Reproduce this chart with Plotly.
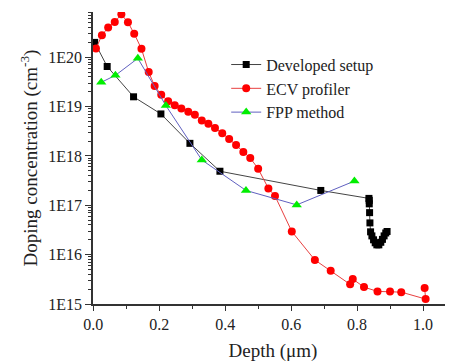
import plotly.graph_objects as go

# Developed setup
dev_x = [0.004, 0.042, 0.122, 0.205, 0.293, 0.384, 0.690, 0.836, 0.837, 0.837, 0.838, 0.839,
         0.841, 0.845, 0.850, 0.855, 0.860, 0.866, 0.872, 0.877, 0.882, 0.887, 0.891]
dev_y = [2.0e20, 6.5e19, 1.58e19, 7.1e18, 1.8e18, 4.9e17, 2.0e17, 1.38e17, 1.26e17, 1.07e17,
         7.1e16, 4.4e16, 2.9e16, 2.4e16, 2.0e16, 1.74e16, 1.58e16, 1.58e16, 1.78e16, 2.04e16,
         2.4e16, 2.75e16, 2.95e16]

# ECV profiler
ecv_x = [0.008, 0.026, 0.045, 0.065, 0.085, 0.105, 0.124, 0.146, 0.168, 0.186, 0.206, 0.227,
         0.247, 0.267, 0.288, 0.308, 0.329, 0.349, 0.369, 0.391, 0.412, 0.433, 0.455, 0.476,
         0.500, 0.531, 0.551, 0.602, 0.672, 0.720, 0.779, 0.787, 0.821, 0.862, 0.900, 0.934,
         1.008, 1.005]
ecv_y = [1.5e20, 2.8e20, 4.0e20, 5.2e20, 7.4e20, 5.1e20, 3.0e20, 1.48e20, 5.0e19, 2.6e19,
         1.74e19, 1.29e19, 1.07e19, 9.1e18, 7.9e18, 6.8e18, 5.2e18, 4.5e18, 3.7e18, 2.9e18,
         2.2e18, 1.66e18, 1.2e18, 9.1e17, 5.5e17, 2.2e17, 1.55e17, 2.95e16, 7.8e15, 4.7e15,
         2.5e15, 3.2e15, 2.2e15, 1.8e15, 1.8e15, 1.74e15, 1.26e15, 2.1e15]

# FPP method
fpp_x = [0.024, 0.067, 0.135, 0.220, 0.329, 0.463, 0.617, 0.792]
fpp_y = [3.1e19, 4.3e19, 9.5e19, 1.05e19, 8.3e17, 2.0e17, 1.02e17, 3.1e17]

y_tickvals = [1e15, 1e16, 1e17, 1e18, 1e19, 1e20]
y_ticktext = ["1E15", "1E16", "1E17", "1E18", "1E19", "1E20"]
x_tickvals = [0.0, 0.2, 0.4, 0.6, 0.8, 1.0]
x_ticktext = ["0.0", "0.2", "0.4", "0.6", "0.8", "1.0"]

FONT = "Liberation Serif"

fig = go.Figure()
fig.add_trace(go.Scatter(x=dev_x, y=dev_y, mode="lines+markers", name="Developed setup",
                         line=dict(color="#444444", width=1),
                         marker=dict(symbol="square", size=7, color="#000000")))
fig.add_trace(go.Scatter(x=ecv_x, y=ecv_y, mode="lines+markers", name="ECV profiler",
                         line=dict(color="#e84040", width=1),
                         marker=dict(symbol="circle", size=8, color="#ff0000")))
fig.add_trace(go.Scatter(x=fpp_x, y=fpp_y, mode="lines+markers", name="FPP method",
                         line=dict(color="#6060c0", width=1),
                         marker=dict(symbol="triangle-up", size=9, color="#00ee00")))

minor_y = [float(m) * 10.0 ** k for k in range(15, 21) for m in range(2, 10)
           if float(m) * 10.0 ** k < 8.3e20]

fig.update_layout(
    width=445, height=355,
    margin=dict(l=85, r=0, t=4, b=59, autoexpand=False),
    paper_bgcolor="white", plot_bgcolor="white",
    font=dict(family=FONT, size=16, color="#222222"),
    showlegend=True,
    legend=dict(x=0.37, y=0.878, xanchor="left", yanchor="top",
                bgcolor="rgba(0,0,0,0)", font=dict(family=FONT, size=16, color="#222222"),
                tracegroupgap=0),
    xaxis=dict(range=[-0.001, 1.091], tickmode="array", tickvals=x_tickvals,
               ticktext=x_ticktext, ticks="outside", ticklen=5, tickwidth=1.2,
               tickcolor="#333", showline=True, linecolor="#333", linewidth=1.5,
               showgrid=False, zeroline=False,
               minor=dict(tickvals=[0.1, 0.3, 0.5, 0.7, 0.9], ticks="outside",
                          ticklen=3, tickcolor="#333"),
               title=dict(text="Depth (μm)", font=dict(family=FONT, size=19), standoff=12),
               tickfont=dict(family=FONT, size=16)),
    yaxis=dict(type="log", range=[15, 20.917], tickmode="array", tickvals=y_tickvals,
               ticktext=y_ticktext, ticks="outside", ticklen=6, tickwidth=1.2,
               tickcolor="#333", showline=True, linecolor="#333", linewidth=1.5,
               showgrid=False, zeroline=False,
               minor=dict(tickvals=minor_y, ticks="outside", ticklen=3, tickcolor="#333"),
               title=dict(text="Doping concentration (cm<sup>-3</sup>)",
                          font=dict(family=FONT, size=19), standoff=6),
               tickfont=dict(family=FONT, size=16)),
)

fig.write_html("out.html")
